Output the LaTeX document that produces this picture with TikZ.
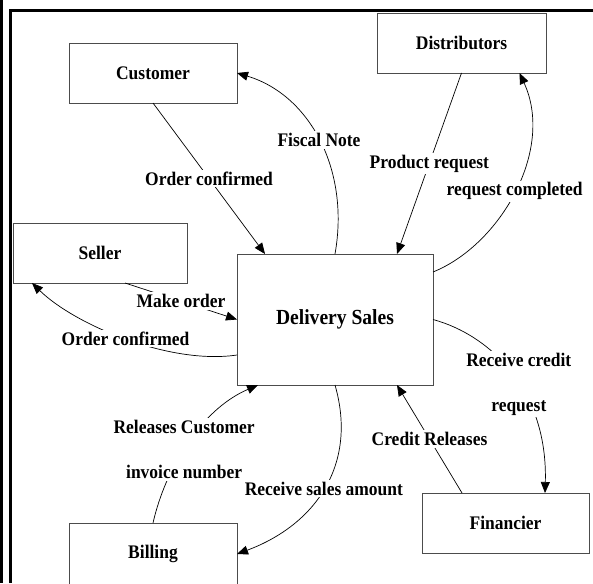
\documentclass[tikz,border=0pt]{standalone}
\usepackage{fontspec}
\setmainfont{Liberation Serif}
\newfontfamily\dfdfont[FakeStretch=0.91]{Liberation Serif}
\usetikzlibrary{arrows.meta}

\begin{document}
\begin{tikzpicture}[x=1pt, y=-1pt,
  entity/.style={draw=black!70, line width=0.8pt, minimum width=168pt,
    minimum height=60pt, inner sep=0pt, outer sep=0pt,
    font=\dfdfont\fontsize{19.2}{23}\selectfont\bfseries},
  flowlbl/.style={fill=white, inner sep=2pt, align=center,
    font=\dfdfont\fontsize{19.2}{23}\selectfont\bfseries},
  ->,>={Triangle[length=11pt,width=9pt]},line width=0.7pt
]
\useasboundingbox (0,0) rectangle (593,583);

% frame
\draw[-, line width=3pt] (1.5,0) -- (1.5,583);
\draw[-, line width=3pt] (10.5,583) -- (10.5,10.5) -- (593,10.5);

\node[entity] (cust) at (153,73) {Customer};
\node[entity, minimum width=169pt] (dist) at (461.5,43) {Distributors};
\node[entity, minimum width=174pt] (sell) at (100,253) {Seller};
\node[entity, minimum width=196pt, minimum height=131pt,
  font=\dfdfont\fontsize{21.5}{25}\selectfont\bfseries] (del) at (335,319.5) {Delivery Sales};
\node[entity, minimum height=62pt] (bill) at (153,554) {Billing};
\node[entity, minimum width=167pt] (fin) at (505.5,523) {Financier};

\draw (cust.south) -- node[flowlbl] {Order confirmed} ([xshift=28pt]del.north west);
\draw (del.north) .. controls (350,170) and (310,95) .. node[flowlbl] {Fiscal Note} (cust.east);
\draw (dist.south) -- node[flowlbl] {Product request} ([xshift=62pt]del.north);
\draw ([yshift=-18pt]del.north east) .. controls (500,245) and (555,150) .. node[flowlbl] {request completed} ([xshift=58pt]dist.south);
\draw ([xshift=25pt]sell.south) -- node[flowlbl] {Make order} (del.west);
\draw ([yshift=-35.5pt]del.west) .. controls (170,365) and (75,325) .. node[flowlbl] {Order confirmed} ([xshift=19pt]sell.south west);
\draw (bill.north) .. controls (165,470) and (200,410) .. node[flowlbl, pos=0.46] {Releases Customer\\[22pt]invoice number} ([xshift=21pt]del.south west);
\draw (del.south) .. controls (358,465) and (315,525) .. node[flowlbl] {Receive sales amount} (bill.east);
\draw (del.east) .. controls (490,335) and (548,390) .. node[flowlbl, pos=0.56] {Receive credit\\[22pt]request} ([xshift=39.5pt]fin.north);
\draw ([xshift=-43.5pt]fin.north) -- node[flowlbl] {Credit Releases} ([xshift=62pt]del.south);
\end{tikzpicture}
\end{document}
